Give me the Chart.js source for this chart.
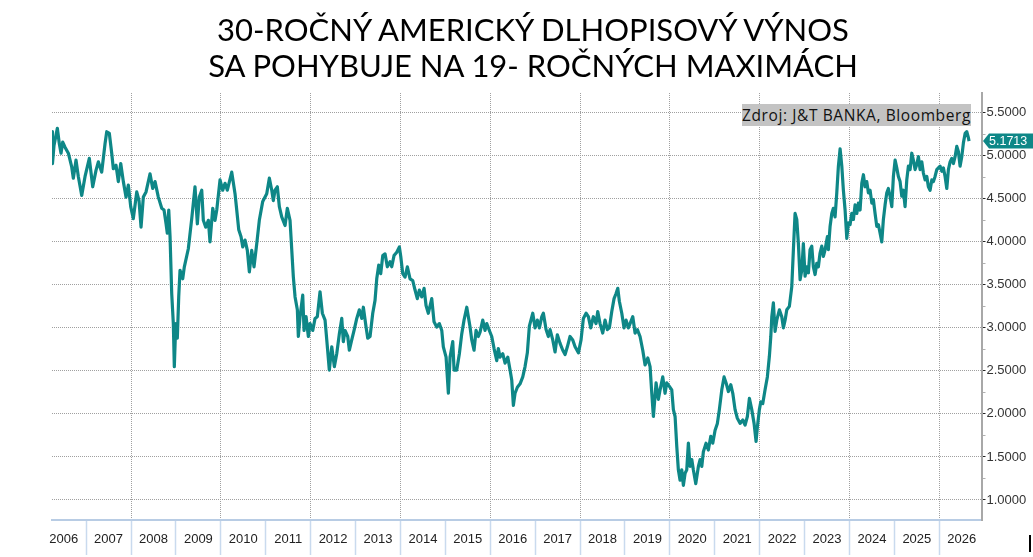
<!DOCTYPE html>
<html>
<head>
<meta charset="utf-8">
<script src="https://cdn.jsdelivr.net/npm/chart.js@4/dist/chart.umd.min.js"></script>
<style>
  body { margin: 0; background: #fff; }
  #wrap { position: relative; width: 1033px; height: 557px; overflow: hidden; }
  #title {
    position: absolute; left: 0; top: 11px; width: 1066px; text-align: center;
    font-family: Lato, "Noto Sans", sans-serif; font-size: 31px; line-height: 36px; color: #000;
  }
  #source {
    position: absolute; left: 742px; top: 104px; width: 229px; height: 22px; line-height: 22px;
    background: #c3c3c3; text-align: center; color: #111; white-space: nowrap;
    font-family: "Open Sans", "Noto Sans", sans-serif; font-size: 15.5px; letter-spacing: 0.6px;
  }
  #mark { position: absolute; left: 1029px; top: 535px; width: 2px; height: 17px; background: #000; }
</style>
</head>
<body>
<div id="wrap">
  <canvas id="bondChart" width="1033" height="557"></canvas>
  <div id="title">30-ROČNÝ AMERICKÝ DLHOPISOVÝ VÝNOS<br>SA POHYBUJE NA 19- ROČNÝCH MAXIMÁCH</div>
  <div id="source">Zdroj: J&amp;T BANKA, Bloomberg</div>
  <div id="mark"></div>
</div>
<script>
// dates as decimal years, yields in %
const dates = [
2006.240,2006.245,2006.256,2006.285,2006.359,2006.403,2006.441,2006.479,2006.530,2006.604,
2006.679,2006.715,2006.775,2006.826,2006.902,2006.976,2007.071,2007.147,2007.220,2007.272,
2007.347,2007.421,2007.459,2007.517,2007.570,2007.606,2007.666,2007.717,2007.771,2007.829,
2007.889,2007.940,2007.993,2008.051,2008.127,2008.178,2008.223,2008.274,2008.334,2008.423,
2008.483,2008.535,2008.608,2008.684,2008.735,2008.780,2008.808,2008.840,2008.869,2008.906,
2008.942,2008.964,2008.996,2009.031,2009.062,2009.091,2009.151,2009.187,2009.276,2009.352,
2009.425,2009.477,2009.521,2009.575,2009.610,2009.664,2009.722,2009.759,2009.820,2009.871,
2009.909,2009.982,2010.042,2010.094,2010.145,2010.243,2010.316,2010.354,2010.399,2010.450,
2010.488,2010.539,2010.590,2010.635,2010.688,2010.739,2010.800,2010.857,2010.933,2011.022,
2011.080,2011.134,2011.169,2011.207,2011.258,2011.303,2011.356,2011.430,2011.481,2011.541,
2011.615,
2011.653,2011.704,2011.726,2011.764,2011.824,2011.853,2011.898,2011.949,2011.987,
2012.047,2012.098,2012.149,2012.209,2012.261,2012.321,2012.359,2012.416,2012.470,2012.528,
2012.581,2012.639,2012.693,2012.728,2012.766,2012.826,2012.862,2012.915,2012.967,2013.027,
2013.085,2013.138,2013.174,2013.234,2013.272,2013.323,2013.383,2013.434,2013.472,2013.517,
2013.561,2013.606,2013.657,2013.708,2013.768,2013.806,2013.857,2013.918,2013.976,2014.007,
2014.051,2014.102,2014.154,2014.214,2014.274,2014.325,2014.376,2014.421,2014.474,2014.526,
2014.570,2014.621,2014.697,2014.748,2014.808,2014.866,2014.920,2014.955,2015.016,2015.067,
2015.105,2015.165,2015.194,2015.254,2015.312,2015.365,2015.416,2015.477,2015.512,2015.550,
2015.588,2015.639,2015.684,2015.735,2015.773,2015.833,2015.884,2015.922,2015.980,2016.033,
2016.085,2016.145,2016.180,2016.218,2016.278,2016.330,2016.390,2016.441,2016.479,2016.515,
2016.552,2016.604,2016.664,
2016.724,2016.775,2016.826,2016.871,2016.947,2016.998,2017.049,
2017.094,2017.148,2017.183,2017.243,2017.294,2017.332,2017.392,2017.443,2017.494,2017.555,
2017.615,2017.666,2017.717,2017.777,2017.837,2017.889,2017.963,2018.022,2018.074,2018.134,
2018.185,2018.238,2018.296,2018.356,2018.394,2018.445,2018.505,2018.557,2018.608,2018.653,
2018.706,2018.757,2018.802,2018.840,2018.875,2018.929,2018.980,2019.025,2019.076,2019.129,
2019.174,2019.225,2019.276,2019.336,2019.396,2019.448,2019.508,2019.559,2019.597,2019.633,
2019.693,2019.744,2019.782,2019.842,2019.893,2019.931,2019.989,2020.042,2020.078,2020.116,
2020.154,2020.189,2020.227,2020.265,2020.301,2020.339,2020.376,2020.412,2020.450,2020.488,
2020.523,2020.577,2020.635,2020.673,2020.711,2020.746,2020.806,2020.857,2020.911,2020.955,
2021.007,2021.058,2021.102,2021.156,2021.207,2021.252,2021.303,2021.356,2021.401,2021.452,
2021.503,2021.563,2021.624,2021.675,2021.726,2021.771,2021.824,2021.875,2021.920,2021.949,
2021.993,2022.025,2022.069,2022.120,2022.171,2022.216,2022.248,2022.270,2022.305,2022.343,
2022.381,2022.439,
2022.492,2022.528,2022.566,2022.604,2022.661,2022.715,2022.751,2022.788,2022.826,2022.862,
2022.900,2022.938,2022.973,2023.011,2023.049,2023.085,2023.122,2023.160,2023.196,2023.234,
2023.272,2023.307,2023.345,2023.383,2023.419,2023.457,2023.508,2023.530,2023.568,2023.606,
2023.641,2023.679,2023.717,2023.753,2023.791,2023.829,2023.864,2023.902,2023.940,2023.976,
2024.013,2024.051,2024.087,2024.125,2024.163,2024.198,2024.236,2024.274,2024.310,2024.347,
2024.385,2024.421,2024.459,2024.497,2024.532,2024.570,2024.608,2024.644,2024.682,2024.719,
2024.755,2024.793,2024.831,2024.866,2024.904,2024.942,2024.978,2025.016,2025.053,2025.089,
2025.127,2025.165,2025.200,2025.238,2025.276,2025.312,2025.350,2025.387,2025.423,2025.461,
2025.499,2025.535,2025.572,2025.610,2025.646,2025.684,2025.722,2025.757,2025.795,2025.833,
2025.869,2025.906,2025.944,2025.980,2026.018,2026.056,2026.091,2026.129,2026.167,2026.203,
2026.241,2026.278,2026.314,2026.352,2026.390,2026.425,2026.463,2026.501,2026.537,2026.575,
2026.612,2026.648,2026.663
];

const yields = [
5.10,5.28,4.91,5.12,5.32,5.14,5.03,5.16,5.10,5.03,
4.87,4.74,4.95,4.76,4.54,4.76,4.97,4.64,4.83,4.93,
4.81,5.14,5.28,5.26,5.03,4.85,4.89,4.70,4.91,4.70,
4.52,4.66,4.41,4.27,4.58,4.48,4.17,4.52,4.58,4.79,
4.62,4.70,4.52,4.39,4.37,4.21,4.10,4.37,4.06,3.40,
3.05,2.55,3.05,2.88,3.36,3.67,3.57,3.71,3.92,4.27,
4.64,4.21,4.52,4.60,4.25,4.17,4.25,4.00,4.39,4.25,
4.37,4.72,4.60,4.68,4.60,4.81,4.56,4.37,4.14,4.06,
3.94,4.02,3.90,3.65,3.90,3.71,3.98,4.25,4.47,4.56,
4.74,4.60,4.48,4.60,4.64,4.41,4.29,4.19,4.39,4.25,
3.59,
3.36,3.21,2.90,3.13,3.38,2.97,3.13,2.90,3.05,
2.97,3.11,3.13,3.42,3.17,3.09,2.86,2.51,2.78,2.55,
2.70,2.93,3.11,2.84,2.97,2.90,2.74,2.86,2.97,3.11,
3.21,3.11,3.24,3.01,2.88,2.90,3.17,3.32,3.57,3.73,
3.63,3.84,3.86,3.71,3.77,3.71,3.84,3.88,3.94,3.83,
3.63,3.59,3.71,3.57,3.55,3.44,3.34,3.44,3.36,3.46,
3.26,3.17,3.34,3.07,3.01,3.05,2.97,2.78,2.66,2.24,
2.66,2.84,2.51,2.51,2.70,2.93,3.09,3.24,3.13,3.01,
2.86,2.74,2.97,2.90,2.95,3.09,2.97,3.05,2.97,2.90,
2.76,2.62,2.76,2.66,2.70,2.59,2.66,2.51,2.39,2.10,
2.24,2.31,2.35,
2.43,2.55,2.71,3.02,3.17,3.00,3.09,
3.00,3.13,3.17,2.98,2.90,2.98,2.86,2.72,2.92,2.82,
2.74,2.69,2.78,2.90,2.86,2.78,2.71,2.86,3.11,3.17,
3.13,3.00,3.13,3.05,3.19,3.05,2.94,3.09,2.98,3.00,
3.19,3.34,3.40,3.46,3.31,3.17,3.00,3.09,3.00,3.07,
3.13,2.94,2.98,2.90,2.74,2.57,2.65,2.55,2.24,1.97,
2.36,2.17,2.28,2.43,2.24,2.36,2.32,2.28,2.05,1.97,
1.62,1.35,1.23,1.35,1.17,1.31,1.35,1.66,1.39,1.47,
1.35,1.19,1.39,1.47,1.39,1.56,1.66,1.58,1.74,1.66,
1.81,1.89,2.05,2.28,2.43,2.36,2.26,2.34,2.24,2.05,
1.95,1.89,1.93,1.87,1.97,2.18,2.05,1.89,1.68,1.85,
2.05,2.14,2.12,2.28,2.43,2.67,2.90,3.13,3.29,2.96,
3.09,3.21,
3.13,3.00,3.09,3.21,3.25,3.48,3.91,4.33,4.26,3.98,
3.56,3.67,3.98,3.60,3.71,3.64,3.91,3.95,3.71,3.62,
3.75,3.71,3.87,3.95,3.83,3.91,4.06,3.91,4.18,4.33,
4.39,4.29,4.57,4.88,5.08,4.88,4.60,4.37,4.04,4.22,
4.20,4.33,4.26,4.43,4.33,4.45,4.37,4.68,4.78,4.64,
4.70,4.57,4.60,4.45,4.49,4.33,4.18,4.20,4.10,4.00,
4.26,4.43,4.57,4.62,4.53,4.41,4.76,4.95,4.86,4.76,
4.70,4.53,4.60,4.41,4.72,4.88,4.84,5.03,4.95,4.84,
4.90,4.99,4.84,4.93,4.80,4.72,4.76,4.64,4.60,4.72,
4.70,4.76,4.84,4.86,4.88,4.82,4.86,4.76,4.62,4.84,
4.93,4.97,4.91,4.99,5.11,5.05,4.88,4.99,5.15,5.26,
5.28,5.21,5.1713
];

const yearLabels = [2006,2007,2008,2009,2010,2011,2012,2013,2014,2015,2016,
                    2017,2018,2019,2020,2021,2022,2023,2024,2025,2026];
const yTicks = [1.0,1.5,2.0,2.5,3.0,3.5,4.0,4.5,5.0,5.5];

const lineColor = '#0e8787';
const axisFont = { family: '"Liberation Sans Narrow", "Liberation Sans", sans-serif', size: 13 };

// minor ticks between the labelled ones
const yAllTicks = [];
yTicks.forEach(function (v, i) {
    yAllTicks.push(v);
    if (i < yTicks.length - 1) yAllTicks.push(v + 0.25);
});
function isMajor(v) { return yTicks.some(t => Math.abs(t - v) < 1e-6); }

const lastValueBadge = {
    id: 'lastValueBadge',
    afterDraw(chart) {
        const ctx = chart.ctx;
        const last = yields[yields.length - 1];
        const y = chart.scales.y.getPixelForValue(last);
        const x0 = chart.scales.y.left + 1.5;
        ctx.save();
        ctx.fillStyle = lineColor;
        ctx.beginPath();
        ctx.moveTo(x0, y);
        ctx.lineTo(x0 + 6, y - 7.5);
        ctx.lineTo(1033, y - 7.5);
        ctx.lineTo(1033, y + 7.5);
        ctx.lineTo(x0 + 6, y + 7.5);
        ctx.closePath();
        ctx.fill();
        ctx.fillStyle = '#ffffff';
        ctx.font = '12.5px "Liberation Sans Narrow", "Liberation Sans", sans-serif';
        ctx.textBaseline = 'middle';
        ctx.fillText(last.toFixed(4), x0 + 6, y + 0.5);
        ctx.restore();
    }
};

let bondChart;

document.addEventListener('DOMContentLoaded', function () {
    renderChart();
});

function renderChart(){
    const ctx = document.getElementById('bondChart').getContext('2d');
    bondChart = new Chart(ctx, {
        type: 'line',
        data: {
            datasets: [{
                data: dates.map((d, i) => ({x: d, y: yields[i]})),
                borderColor: lineColor,
                borderWidth: 3.2,
                pointRadius: 0,
                tension: 0,
                borderJoinStyle: 'round'
            }]
        },
        options: {
            responsive: false,
            animation: false,
            layout: { padding: { top: 93, left: 52, right: 0, bottom: 0 } },
            plugins: { legend: { display: false }, tooltip: { enabled: false } },
            scales: {
                x: {
                    type: 'linear',
                    min: 2006.24,
                    max: 2026.94,
                    afterBuildTicks: s => { s.ticks = yearLabels.map(v => ({value: v})); },
                    afterFit: s => { s.height = 37; },
                    grid: {
                        color: c => (c.tick && c.tick.value % 2 === 0 && c.tick.value > 2006) ? '#a0a0a0' : 'rgba(0,0,0,0)',
                        lineWidth: 1,
                        tickLength: 35,
                        tickWidth: 1.5,
                        tickColor: c => (c.tick && c.tick.value > 2006) ? '#c9daee' : 'rgba(0,0,0,0)'
                    },
                    border: { color: '#b8cce4', width: 2, dash: [1, 1] },
                    ticks: {
                        labelOffset: 22.45,
                        padding: -23,
                        maxRotation: 0,
                        autoSkip: false,
                        color: '#222',
                        font: axisFont,
                        callback: v => String(v)
                    }
                },
                y: {
                    position: 'right',
                    min: 0.767,
                    max: 5.73,
                    afterBuildTicks: s => { s.ticks = yAllTicks.map(v => ({value: v})); },
                    afterFit: s => { s.width = 51.5; },
                    grid: {
                        color: c => (c.tick && isMajor(c.tick.value)) ? '#a0a0a0' : 'rgba(0,0,0,0)',
                        lineWidth: 1,
                        tickLength: 4,
                        tickWidth: 1,
                        tickColor: c => (c.tick && isMajor(c.tick.value)) ? '#222' : '#b0b0b0'
                    },
                    border: { color: '#a8a8a8', width: 2, dash: [1, 1] },
                    ticks: {
                        padding: 1,
                        color: '#333',
                        font: axisFont,
                        callback: v => isMajor(v) ? v.toFixed(4) : ''
                    }
                }
            }
        },
        plugins: [lastValueBadge]
    });
}
</script>
</body>
</html>
